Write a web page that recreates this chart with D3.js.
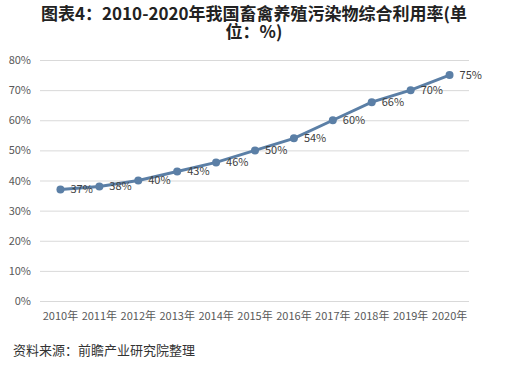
<!DOCTYPE html>
<html>
<head>
<meta charset="utf-8">
<script src="https://cdn.jsdelivr.net/npm/d3@7"></script>
<style>
  body { margin: 0; background: #fff; }
  svg { display: block; }
</style>
</head>
<body>
<svg id="chart" width="507" height="373"></svg>
<script>
// ===== 畜禽养殖污染物综合利用率 line chart =====
const years = ['2010年', '2011年', '2012年', '2013年', '2014年', '2015年',
               '2016年', '2017年', '2018年', '2019年', '2020年'];
const rates = [37, 38, 40, 43, 46, 50, 54, 60, 66, 70, 75];
const yTicks = [0, 10, 20, 30, 40, 50, 60, 70, 80];
const titleLines = ['图表4：2010-2020年我国畜禽养殖污染物综合利用率(单', '位：%)'];
const sourceText = '资料来源：前瞻产业研究院整理';

const svg = d3.select('#chart');
const font = '"Noto Sans CJK SC", "Noto Sans", sans-serif';

const x = d3.scaleBand().domain(years).range([41, 469]);
const y = d3.scaleLinear().domain([0, 80]).range([301, 60]);

// title, wrapped onto two lines like the original
const title = svg.append('text')
    .attr('text-anchor', 'middle')
    .attr('font-family', font)
    .attr('font-size', 17)
    .attr('font-weight', 'bold')
    .attr('fill', '#222');
title.selectAll('tspan')
    .data(titleLines)
    .join('tspan')
    .attr('x', 254)
    .attr('y', (d, i) => 20 + i * 18)
    .text(d => d);

// grid lines + y labels
const yAxis = d3.axisLeft(y).tickValues(yTicks).tickSize(-(469 - 40)).tickFormat(d => d + '%');
const gy = svg.append('g').attr('transform', 'translate(40,0)').call(yAxis);
gy.select('.domain').remove();
gy.selectAll('.tick line').attr('stroke', '#d9d9d9').attr('stroke-width', 1);
gy.selectAll('.tick text')
    .attr('x', -9)
    .attr('fill', '#595959')
    .attr('font-family', font)
    .attr('font-size', 11);

// x labels
const xAxis = d3.axisBottom(x).tickSize(0).tickPadding(11);
const gx = svg.append('g').attr('transform', 'translate(0,301)').call(xAxis);
gx.select('.domain').remove();
gx.selectAll('.tick text')
    .attr('fill', '#595959')
    .attr('font-family', font)
    .attr('font-size', 11);

// line
const cx = d => x(d) + x.bandwidth() / 2;
const line = d3.line()
    .x((d, i) => cx(years[i]))
    .y(d => y(d));

svg.append('path')
    .datum(rates)
    .attr('d', line)
    .attr('fill', 'none')
    .attr('stroke', '#5b7fa6')
    .attr('stroke-width', 3);

svg.append('g').selectAll('circle')
    .data(rates)
    .join('circle')
    .attr('cx', (d, i) => cx(years[i]))
    .attr('cy', d => y(d))
    .attr('r', 4)
    .attr('fill', '#5b7fa6');

// data labels
svg.append('g').selectAll('text')
    .data(rates)
    .join('text')
    .attr('x', (d, i) => cx(years[i]) + 10)
    .attr('y', d => y(d))
    .attr('dy', '0.35em')
    .attr('fill', '#404040')
    .attr('font-family', font)
    .attr('font-size', 11)
    .text(d => d + '%');

// source
svg.append('text')
    .attr('x', 13)
    .attr('y', 355)
    .attr('font-family', font)
    .attr('font-size', 13)
    .attr('fill', '#333')
    .text(sourceText);
</script>
</body>
</html>
